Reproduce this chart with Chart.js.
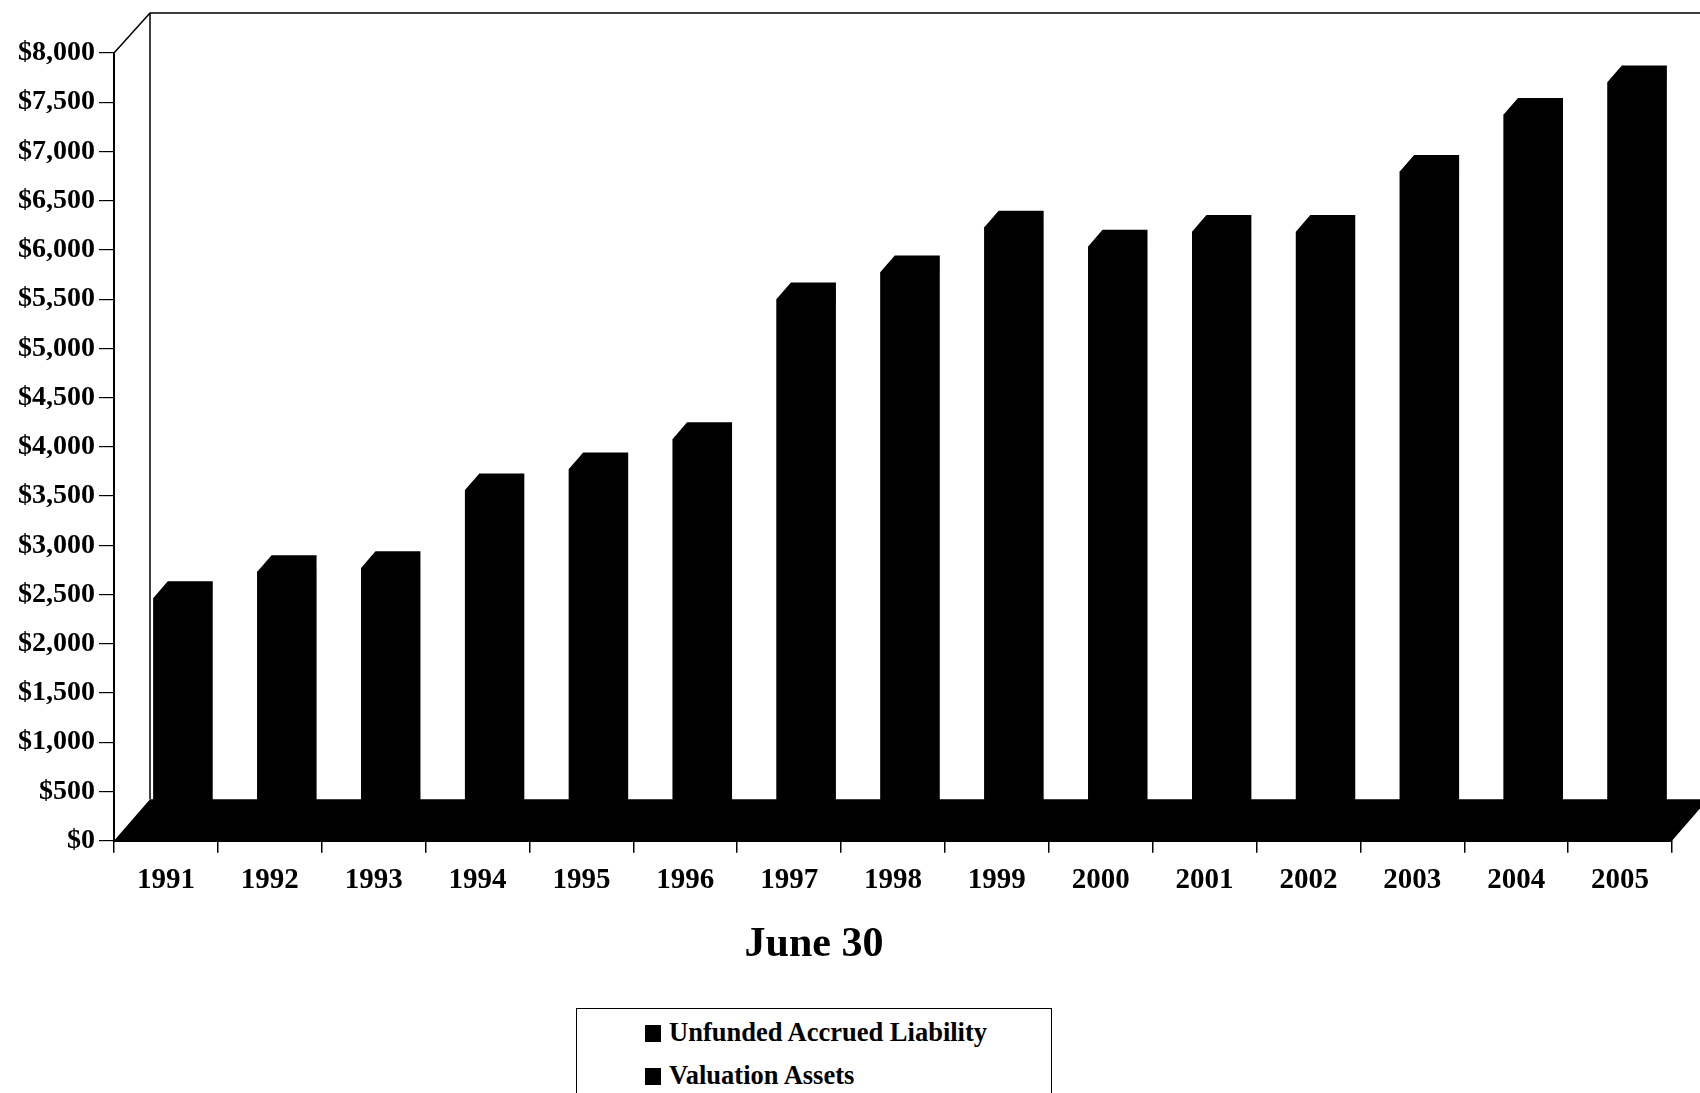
<!DOCTYPE html>
<html>
<head>
<meta charset="utf-8">
<script src="https://cdn.jsdelivr.net/npm/chart.js@4/dist/chart.umd.min.js"></script>
<style>
  html, body { margin: 0; padding: 0; background: #fff; overflow: hidden; }
  #wrap { position: relative; width: 1700px; height: 1093px; }
  #c { position: absolute; left: 0; top: 0; }
  #legend {
    position: absolute; left: 576px; top: 1008px; width: 476px; height: 120px;
    border: 1px solid #000; background: #fff; box-sizing: border-box;
    font-family: "Liberation Serif", "Times New Roman", serif; font-weight: bold; font-size: 26.5px; color: #000;
  }
  .item { position: absolute; left: 68px; white-space: nowrap; line-height: 1; }
  .sw { display: inline-block; width: 16px; height: 17px; background: #000; margin-right: 8px; vertical-align: -1px; }
</style>
</head>
<body>
<div id="wrap">
  <canvas id="c" width="1700" height="1093"></canvas>
  <div id="legend"></div>
</div>
<script>
// ---- data ($ millions, June 30 valuations) ----
const years = ['1991','1992','1993','1994','1995','1996','1997','1998','1999','2000','2001','2002','2003','2004','2005'];
// Both series are printed in black, so only the top of each stacked column
// (Valuation Assets + Unfunded Accrued Liability) can be read.
const barTotals = [2350, 2615, 2655, 3445, 3660, 3965, 5385, 5660, 6115, 5920, 6070, 6070, 6680, 7260, 7590];
const seriesNames = ['Unfunded Accrued Liability', 'Valuation Assets'];
const yMin = 0, yMax = 8000, yStep = 500;
const xAxisTitle = 'June 30';

// ---- legend (HTML text) ----
const lg = document.getElementById('legend');
seriesNames.forEach((n, i) => {
  const d = document.createElement('div');
  d.className = 'item';
  d.style.top = (10 + i * 43) + 'px';
  d.innerHTML = '<span class="sw"></span>' + n;
  lg.appendChild(d);
});

// ---- 3D look (pseudo-perspective like the original) ----
const DEPTH_DX = 36, DEPTH_DY = 41.4;    // full floor depth offset
const BAR_FRONT = 0.275, BAR_DEPTH = 0.4; // bar position within depth
const SERIF = '"Liberation Serif", "Times New Roman", serif';

const threeD = {
  id: 'threeD',
  beforeDatasetsDraw(chart) {
    const { ctx, chartArea: a } = chart;
    ctx.save();
    // back wall outline
    ctx.strokeStyle = '#000';
    ctx.lineWidth = 1.5;
    ctx.beginPath();
    ctx.moveTo(a.left, a.top);
    ctx.lineTo(a.left + DEPTH_DX, a.top - 40);
    ctx.lineTo(chart.width, a.top - 40);
    ctx.moveTo(a.left + DEPTH_DX, a.top - 40);
    ctx.lineTo(a.left + DEPTH_DX, a.bottom - DEPTH_DY);
    ctx.stroke();
    // floor
    ctx.fillStyle = '#000';
    ctx.beginPath();
    ctx.moveTo(a.left, a.bottom);
    ctx.lineTo(a.right, a.bottom);
    ctx.lineTo(a.right + DEPTH_DX, a.bottom - DEPTH_DY);
    ctx.lineTo(a.left + DEPTH_DX, a.bottom - DEPTH_DY);
    ctx.closePath();
    ctx.fill();
    ctx.restore();
    // shift bars back into depth
    ctx.save();
    ctx.translate(DEPTH_DX * BAR_FRONT, -DEPTH_DY * BAR_FRONT);
  },
  afterDatasetsDraw(chart) {
    const { ctx } = chart;
    const dx = DEPTH_DX * BAR_DEPTH, dy = DEPTH_DY * BAR_DEPTH;
    ctx.fillStyle = '#000';
    chart.getDatasetMeta(0).data.forEach(el => {
      const p = el.getProps(['x', 'y', 'base', 'width'], true);
      const l = p.x - p.width / 2, r = p.x + p.width / 2;
      // full silhouette of the column (front, top and side faces)
      ctx.beginPath();
      ctx.moveTo(l, p.base);
      ctx.lineTo(l, p.y);
      ctx.lineTo(l + dx, p.y - dy);
      ctx.lineTo(r + dx, p.y - dy);
      ctx.lineTo(r + dx, p.base - dy);
      ctx.lineTo(r, p.base);
      ctx.closePath();
      ctx.fill();
    });
    ctx.restore();
    // axis title
    const a = chart.chartArea;
    ctx.save();
    ctx.fillStyle = '#000';
    ctx.font = 'bold 42px ' + SERIF;
    ctx.textAlign = 'center';
    ctx.textBaseline = 'alphabetic';
    ctx.fillText(xAxisTitle, 814, a.bottom + 115);
    ctx.restore();
  }
};

new Chart(document.getElementById('c'), {
  type: 'bar',
  data: {
    labels: years,
    datasets: [{
      label: seriesNames.join(' + '),
      data: barTotals,
      backgroundColor: '#000',
      borderWidth: 0,
      categoryPercentage: 1,
      barPercentage: 0.433
    }]
  },
  options: {
    responsive: false,
    devicePixelRatio: 1,
    animation: false,
    layout: { padding: { top: 53, right: 28, left: 0, bottom: 0 } },
    plugins: { legend: { display: false }, tooltip: { enabled: false }, title: { display: false } },
    scales: {
      x: {
        offset: true,
        grid: { display: true, drawOnChartArea: false, drawTicks: true, tickLength: 12, color: '#000', lineWidth: 1.5, offset: true },
        border: { display: true, color: '#000', width: 2 },
        ticks: { color: '#000', font: { family: SERIF, weight: 'bold', size: 29 }, padding: 10, maxRotation: 0, autoSkip: false },
        afterFit(s) { s.height = 252.3; }
      },
      y: {
        min: yMin, max: yMax,
        grid: { display: true, drawOnChartArea: false, drawTicks: true, tickLength: 15, color: '#000', lineWidth: 1.2 },
        border: { display: true, color: '#000', width: 2 },
        ticks: {
          stepSize: yStep, color: '#000', padding: 4,
          font: { family: SERIF, weight: 'bold', size: 28 },
          callback: v => '$' + Number(v).toLocaleString('en-US')
        },
        afterFit(s) { s.width = 114; }
      }
    }
  },
  plugins: [threeD]
});
</script>
</body>
</html>
